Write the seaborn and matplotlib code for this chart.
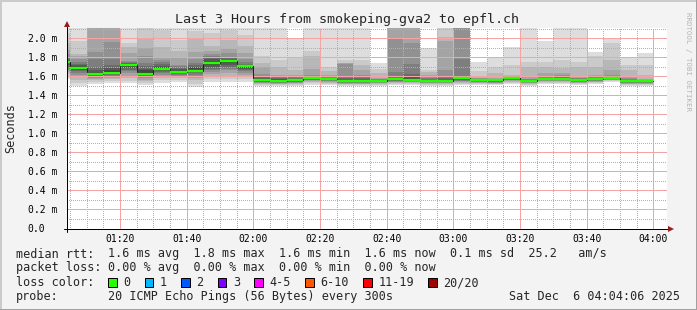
import matplotlib
matplotlib.use("Agg")
import matplotlib.pyplot as plt
from matplotlib.patches import Rectangle
from matplotlib.lines import Line2D
from matplotlib.ticker import MultipleLocator, FixedLocator
import numpy as np
import pandas as pd
import seaborn as sns

# ---------------- data ----------------
TITLE = "Last 3 Hours from smokeping-gva2 to epfl.ch"
window = ("01:04:06", "04:04:06")
STEP_MIN = 5
step_start = ["01:00", "01:05", "01:10", "01:15", "01:20", "01:25", "01:30", "01:35",
              "01:40", "01:45", "01:50", "01:55", "02:00", "02:05", "02:10", "02:15",
              "02:20", "02:25", "02:30", "02:35", "02:40", "02:45", "02:50", "02:55",
              "03:00", "03:05", "03:10", "03:15", "03:20", "03:25", "03:30", "03:35",
              "03:40", "03:45", "03:50", "03:55"]

median_ms = [1.754, 1.691, 1.625, 1.638, 1.722, 1.628, 1.677, 1.646, 1.659, 1.737,
             1.758, 1.703, 1.561, 1.554, 1.557, 1.582, 1.572, 1.551, 1.551, 1.554,
             1.568, 1.565, 1.554, 1.553, 1.578, 1.561, 1.557, 1.579, 1.554, 1.575,
             1.575, 1.561, 1.572, 1.586, 1.551, 1.551]

# 20 sorted ping rtts (ms) per 5-minute step
pings_ms = [
    [1.57, 1.60, 1.62, 1.64, 1.66, 1.68, 1.70, 1.72, 1.74, 1.75, 1.755, 1.76, 1.77, 1.78, 1.80, 1.83, 1.88, 1.95, 2.05, 2.30],
    [1.50, 1.53, 1.56, 1.59, 1.61, 1.63, 1.65, 1.66, 1.67, 1.685, 1.70, 1.71, 1.72, 1.73, 1.75, 1.78, 1.81, 1.83, 1.97, 2.25],
    [1.52, 1.54, 1.56, 1.57, 1.58, 1.59, 1.60, 1.61, 1.615, 1.62, 1.63, 1.64, 1.66, 1.70, 1.78, 1.85, 2.25, 2.30, 2.35, 2.40],
    [1.53, 1.55, 1.57, 1.58, 1.59, 1.60, 1.61, 1.62, 1.63, 1.635, 1.65, 1.67, 1.69, 1.72, 1.78, 1.96, 2.25, 2.30, 2.35, 2.40],
    [1.53, 1.55, 1.58, 1.60, 1.63, 1.65, 1.67, 1.69, 1.70, 1.715, 1.725, 1.73, 1.735, 1.74, 1.75, 1.76, 1.84, 1.91, 1.95, 2.25],
    [1.51, 1.53, 1.55, 1.56, 1.58, 1.59, 1.60, 1.61, 1.615, 1.625, 1.64, 1.66, 1.68, 1.71, 1.74, 1.81, 1.895, 2.00, 2.20, 2.25],
    [1.53, 1.56, 1.58, 1.60, 1.61, 1.63, 1.64, 1.65, 1.665, 1.675, 1.685, 1.70, 1.71, 1.73, 1.75, 1.77, 1.79, 1.91, 2.09, 2.25],
    [1.54, 1.56, 1.58, 1.59, 1.60, 1.61, 1.62, 1.63, 1.64, 1.645, 1.655, 1.67, 1.68, 1.69, 1.71, 1.72, 1.79, 1.86, 1.98, 2.25],
    [1.49, 1.52, 1.56, 1.58, 1.60, 1.61, 1.63, 1.64, 1.65, 1.655, 1.67, 1.685, 1.70, 1.72, 1.74, 1.78, 1.85, 1.99, 2.07, 2.25],
    [1.54, 1.57, 1.60, 1.62, 1.64, 1.66, 1.68, 1.70, 1.72, 1.73, 1.745, 1.76, 1.78, 1.80, 1.81, 1.83, 1.86, 1.92, 2.05, 2.25],
    [1.54, 1.57, 1.60, 1.63, 1.66, 1.68, 1.70, 1.72, 1.74, 1.75, 1.765, 1.775, 1.785, 1.79, 1.80, 1.84, 1.89, 1.98, 2.08, 2.25],
    [1.54, 1.57, 1.59, 1.61, 1.63, 1.65, 1.67, 1.68, 1.69, 1.70, 1.71, 1.715, 1.72, 1.73, 1.75, 1.78, 1.84, 1.92, 2.03, 2.25],
    [1.50, 1.51, 1.52, 1.525, 1.53, 1.535, 1.54, 1.545, 1.55, 1.555, 1.565, 1.57, 1.58, 1.59, 1.60, 1.62, 1.70, 1.74, 1.81, 2.25],
    [1.50, 1.51, 1.515, 1.52, 1.525, 1.53, 1.535, 1.54, 1.545, 1.55, 1.56, 1.57, 1.575, 1.58, 1.59, 1.60, 1.615, 1.70, 1.77, 2.25],
    [1.50, 1.51, 1.52, 1.525, 1.53, 1.535, 1.54, 1.545, 1.55, 1.555, 1.56, 1.57, 1.575, 1.58, 1.59, 1.60, 1.615, 1.67, 1.79, 1.99],
    [1.51, 1.53, 1.54, 1.55, 1.555, 1.56, 1.565, 1.57, 1.575, 1.578, 1.583, 1.585, 1.59, 1.595, 1.60, 1.615, 1.68, 1.81, 1.86, 2.25],
    [1.51, 1.52, 1.53, 1.54, 1.545, 1.55, 1.555, 1.56, 1.565, 1.57, 1.575, 1.578, 1.58, 1.585, 1.59, 1.60, 1.615, 1.65, 1.70, 2.25],
    [1.50, 1.51, 1.515, 1.52, 1.525, 1.53, 1.535, 1.54, 1.545, 1.548, 1.555, 1.56, 1.57, 1.58, 1.60, 1.73, 1.735, 1.74, 1.77, 2.25],
    [1.50, 1.51, 1.515, 1.52, 1.525, 1.53, 1.535, 1.54, 1.545, 1.548, 1.555, 1.565, 1.575, 1.585, 1.60, 1.615, 1.67, 1.72, 1.77, 2.25],
    [1.50, 1.51, 1.52, 1.525, 1.53, 1.535, 1.54, 1.545, 1.55, 1.552, 1.556, 1.558, 1.56, 1.565, 1.57, 1.575, 1.58, 1.63, 1.68, 1.74],
    [1.51, 1.52, 1.53, 1.535, 1.54, 1.545, 1.55, 1.555, 1.56, 1.565, 1.57, 1.575, 1.585, 1.60, 1.64, 1.99, 2.25, 2.30, 2.35, 2.40],
    [1.51, 1.52, 1.53, 1.535, 1.54, 1.545, 1.55, 1.555, 1.558, 1.562, 1.57, 1.58, 1.595, 1.625, 1.73, 1.95, 2.25, 2.30, 2.35, 2.40],
    [1.50, 1.51, 1.52, 1.525, 1.53, 1.535, 1.54, 1.545, 1.548, 1.552, 1.557, 1.56, 1.565, 1.57, 1.58, 1.59, 1.61, 1.64, 1.66, 1.90],
    [1.50, 1.51, 1.52, 1.525, 1.53, 1.535, 1.54, 1.545, 1.548, 1.551, 1.556, 1.56, 1.57, 1.585, 1.60, 1.66, 1.97, 2.01, 2.35, 2.40],
    [1.51, 1.52, 1.53, 1.54, 1.545, 1.55, 1.56, 1.565, 1.57, 1.575, 1.58, 1.585, 1.59, 1.60, 1.78, 2.20, 2.25, 2.30, 2.35, 2.40],
    [1.505, 1.515, 1.525, 1.53, 1.535, 1.54, 1.545, 1.55, 1.555, 1.559, 1.563, 1.565, 1.567, 1.57, 1.574, 1.578, 1.585, 1.60, 1.65, 1.744],
    [1.505, 1.515, 1.52, 1.525, 1.53, 1.535, 1.54, 1.545, 1.55, 1.555, 1.559, 1.561, 1.564, 1.567, 1.57, 1.575, 1.58, 1.63, 1.70, 1.79],
    [1.52, 1.53, 1.54, 1.55, 1.555, 1.56, 1.565, 1.57, 1.573, 1.577, 1.581, 1.583, 1.585, 1.587, 1.59, 1.595, 1.60, 1.615, 1.72, 1.91],
    [1.50, 1.51, 1.52, 1.525, 1.53, 1.535, 1.54, 1.545, 1.548, 1.552, 1.556, 1.559, 1.562, 1.565, 1.57, 1.575, 1.60, 1.70, 1.744, 2.25],
    [1.52, 1.53, 1.54, 1.545, 1.55, 1.555, 1.56, 1.565, 1.57, 1.573, 1.577, 1.579, 1.582, 1.585, 1.59, 1.60, 1.63, 1.70, 1.754, 1.965],
    [1.52, 1.53, 1.54, 1.545, 1.55, 1.555, 1.56, 1.565, 1.57, 1.573, 1.577, 1.58, 1.585, 1.59, 1.60, 1.61, 1.63, 1.684, 1.77, 2.25],
    [1.505, 1.515, 1.525, 1.53, 1.535, 1.54, 1.545, 1.55, 1.555, 1.559, 1.563, 1.565, 1.568, 1.572, 1.578, 1.585, 1.60, 1.70, 1.754, 2.25],
    [1.515, 1.525, 1.535, 1.543, 1.548, 1.553, 1.558, 1.562, 1.566, 1.57, 1.574, 1.577, 1.58, 1.585, 1.59, 1.60, 1.615, 1.70, 1.807, 1.85],
    [1.535, 1.545, 1.555, 1.56, 1.565, 1.57, 1.573, 1.577, 1.58, 1.584, 1.589, 1.592, 1.595, 1.60, 1.605, 1.614, 1.667, 1.772, 1.947, 2.00],
    [1.495, 1.505, 1.515, 1.52, 1.525, 1.53, 1.535, 1.54, 1.545, 1.548, 1.554, 1.557, 1.56, 1.565, 1.57, 1.58, 1.60, 1.667, 1.72, 1.79],
    [1.495, 1.505, 1.515, 1.52, 1.525, 1.53, 1.535, 1.54, 1.545, 1.549, 1.553, 1.555, 1.557, 1.559, 1.562, 1.565, 1.57, 1.614, 1.72, 1.842],
]

x_tick_labels = ["01:20", "01:40", "02:00", "02:20", "02:40", "03:00", "03:20", "03:40", "04:00"]
y_tick_values = [0.0, 0.2, 0.4, 0.6, 0.8, 1.0, 1.2, 1.4, 1.6, 1.8, 2.0]
y_tick_labels = ["0.0", "0.2 m", "0.4 m", "0.6 m", "0.8 m", "1.0 m", "1.2 m", "1.4 m",
                 "1.6 m", "1.8 m", "2.0 m"]
Y_LABEL = "Seconds"
rtt_label, rtt_text = "median rtt:", "1.6 ms avg  1.8 ms max  1.6 ms min  1.6 ms now  0.1 ms sd  25.2   am/s"
loss_label, loss_text = "packet loss:", "0.00 % avg  0.00 % max  0.00 % min  0.00 % now"
color_label = "loss color:"
loss_labels = ["0", "1", "2", "3", "4-5", "6-10", "11-19", "20/20"]
loss_colors = ["#26ff00", "#00b8ff", "#0059ff", "#7e00ff", "#ff00ff", "#ff5500", "#ff0000", "#a10000"]
probe_label, probe_text = "probe:", "20 ICMP Echo Pings (56 Bytes) every 300s"
timestamp = "Sat Dec  6 04:04:06 2025"
watermark = "RRDTOOL / TOBI OETIKER"
smoke_grays = ["#dddddd", "#cacaca", "#b7b7b7", "#a4a4a4", "#919191",
               "#7e7e7e", "#6b6b6b", "#585858", "#454545", "#323232"]

# ---------------- helpers ----------------
def to_min(s):
    parts = [int(p) for p in s.split(":")]
    v = parts[0] * 60 + parts[1]
    if len(parts) > 2:
        v += parts[2] / 60.0
    return v

sns.set_style("white")
MONO = ["DejaVu Sans Mono"]
plt.rcParams["font.family"] = MONO

W, H = 697, 310
PX = 72.0 / 100.0
fig = plt.figure(figsize=(W / 100, H / 100), dpi=100, facecolor="#f3f3f3")
fx = lambda p: p / W
fy = lambda p: 1 - p / H

AX_L, AX_R, AX_T, AX_B = 67, 667, 27.5, 228.5
ax = fig.add_axes([fx(AX_L), fy(AX_B), (AX_R - AX_L) / W, (AX_B - AX_T) / H])
ax.set_facecolor("white")
for s in ax.spines.values():
    s.set_visible(False)

starts = np.array([to_min(s) for s in step_start], dtype=float)
P = np.array(pings_ms)
npings = P.shape[1]

# smoke
for i, g in enumerate(smoke_grays):
    lo = P[:, i]
    hi = P[:, npings - 1 - i]
    ax.bar(starts, hi - lo, bottom=lo, width=STEP_MIN, align="edge", color=g,
           linewidth=0, antialiased=False, zorder=1)

# median: dark step line + loss-coloured segments
df = pd.DataFrame({"t": np.append(starts, starts[-1] + STEP_MIN),
                   "m": median_ms + [median_ms[-1]]})
sns.lineplot(data=df, x="t", y="m", ax=ax, drawstyle="steps-post", color="#202020",
             lw=1.0 * PX, estimator=None, zorder=3)
ax.hlines(median_ms, starts, starts + STEP_MIN, colors=loss_colors[0], lw=2.4 * PX, zorder=4)

# axes scales / ticks
ax.set_xlim(to_min(window[0]), to_min(window[1]))
ax.set_ylim(0, (AX_B - AX_T) / 95.2)
ax.xaxis.set_major_locator(FixedLocator([to_min(t) for t in x_tick_labels]))
ax.set_xticklabels(x_tick_labels)
ax.xaxis.set_minor_locator(MultipleLocator(STEP_MIN))
ax.yaxis.set_major_locator(FixedLocator(y_tick_values))
ax.set_yticklabels(y_tick_labels)
ax.yaxis.set_minor_locator(MultipleLocator(0.1))
ax.set_xlabel("")
ax.set_ylabel("")
ax.tick_params(which="major", direction="out", length=3 * PX, width=PX, color="#404040",
               labelsize=7, labelcolor="black")
ax.tick_params(which="minor", direction="out", length=2 * PX, width=PX, color="#404040")
ax.tick_params(axis="x", which="major", pad=2.5 * PX)
ax.tick_params(axis="y", which="major", pad=(AX_L - 30.5) * PX)
for lab in ax.get_yticklabels():
    lab.set_horizontalalignment("left")

ax.set_axisbelow(False)
ax.grid(True, which="minor", color="#b0b0b0", lw=PX, ls=(0, (1, 2)), antialiased=False)
ax.grid(True, which="major", color="#f4a4a4", lw=PX, ls=(0, (1, 1)), antialiased=False)

# axis lines with arrows
aw = AX_R - AX_L
ah = AX_B - AX_T
ax.plot([-3 / aw, 1.003], [0, 0], transform=ax.transAxes, color="black", lw=PX,
        clip_on=False, zorder=6)
ax.plot([0, 0], [-3 / ah, 1.008], transform=ax.transAxes, color="black", lw=PX,
        clip_on=False, zorder=6)
ax.plot([1.0068], [0], transform=ax.transAxes, marker=">", ms=4.5, mew=0,
        color="#9b1c1c", clip_on=False, zorder=7)
ax.plot([0], [1.018], transform=ax.transAxes, marker="^", ms=4.5, mew=0,
        color="#9b1c1c", clip_on=False, zorder=7)

# titles
fig.text(fx(347), fy(19), TITLE, ha="center", va="center", fontsize=9.6, family=MONO)
fig.text(fx(11), fy(128), Y_LABEL, ha="center", va="center", rotation=90, fontsize=8.5,
         family=MONO)
fig.text(fx(688), fy(61), watermark, ha="center", va="center", rotation=270, fontsize=5.3,
         color="#b4b4b4", family=MONO)

# legend block
LFS = 8.5
ADV = 0.602 * LFS / 72 * 100
rows = [254, 268, 282.5, 296.5]
fig.text(fx(16), fy(rows[0]), rtt_label, va="center", fontsize=LFS)
fig.text(fx(107.6), fy(rows[0]), rtt_text, va="center", fontsize=LFS)
fig.text(fx(16), fy(rows[1]), loss_label, va="center", fontsize=LFS)
fig.text(fx(107.6), fy(rows[1]), loss_text, va="center", fontsize=LFS)
fig.text(fx(16), fy(rows[2]), color_label, va="center", fontsize=LFS)
x = 108.0
bw, bh = 8.5, 9.0
for lab, col in zip(loss_labels, loss_colors):
    fig.patches.append(Rectangle((fx(x), fy(rows[2] + bh / 2)), bw / W, bh / H,
                                 transform=fig.transFigure, facecolor=col,
                                 edgecolor="black", lw=PX))
    fig.text(fx(x + 15), fy(rows[2]), lab, va="center", fontsize=LFS)
    x = x + 15 + ADV * len(lab) + 14.5
fig.text(fx(16), fy(rows[3]), probe_label, va="center", fontsize=LFS)
fig.text(fx(107.6), fy(rows[3]), probe_text, va="center", fontsize=LFS)
fig.text(fx(680), fy(rows[3]), timestamp, va="center", ha="right", fontsize=LFS)

# 3D frame of the image
fig.lines.append(Line2D([0, 1], [fy(0.5), fy(0.5)], transform=fig.transFigure, color="#cbcbcb", lw=2 * PX))
fig.lines.append(Line2D([fx(0.5), fx(0.5)], [0, 1], transform=fig.transFigure, color="#cbcbcb", lw=2 * PX))
fig.lines.append(Line2D([0, 1], [fy(H - 0.5), fy(H - 0.5)], transform=fig.transFigure, color="#a0a0a0", lw=2 * PX))
fig.lines.append(Line2D([fx(W - 0.5), fx(W - 0.5)], [0, 1], transform=fig.transFigure, color="#a0a0a0", lw=2 * PX))

fig.savefig("out.png", dpi=100, facecolor=fig.get_facecolor())
